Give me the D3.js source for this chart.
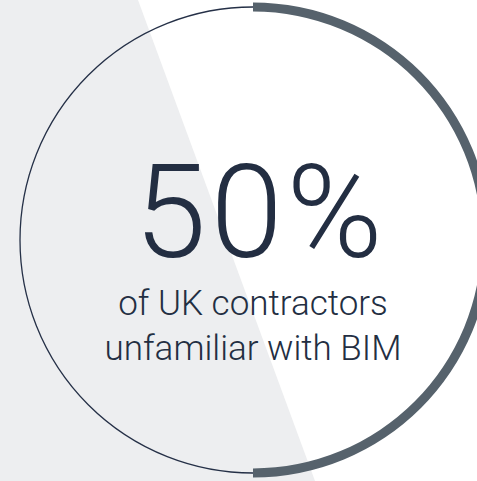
<!DOCTYPE html>
<html>
<head>
<meta charset="utf-8">
<script src="https://cdn.jsdelivr.net/npm/d3@7"></script>
<style>
  html, body { margin: 0; padding: 0; background: #fff; overflow: hidden; }
</style>
</head>
<body>
<div id="chart"></div>
<script>
// share of contractors and the labels
var shareValue = [50]
var shareTotal = [100]
var headline = ['50%']
var captionLines = ['of UK contractors', 'unfamiliar with BIM']

var svgWidth = 477
var svgHeight = 481

var svg = d3.select('#chart')
    .append('svg')
    .attr('width', svgWidth)
    .attr('height', svgHeight)

// light diagonal band behind the left part
svg.append('rect')
    .attr('width', svgWidth)
    .attr('height', svgHeight)
    .attr('fill', '#ffffff')

svg.append('path')
    .attr('d', 'M0,0 L138,0 L315,481 L0,481 Z')
    .attr('fill', '#edeef0')

var cx = 253
var cy = 240
var radius = 233

var g = svg.append('g')
    .attr('transform', `translate(${cx}, ${cy})`)

// thin full ring
g.append('circle')
    .attr('r', radius)
    .attr('fill', 'none')
    .attr('stroke', '#253047')
    .attr('stroke-width', 1.3)

// thick arc for the share
var angle = d3.scaleLinear()
    .domain([0, shareTotal[0]])
    .range([0, 2 * Math.PI])

var arc = d3.arc()
    .innerRadius(radius - 4.5)
    .outerRadius(radius + 4.5)
    .startAngle(0)
    .endAngle(d => angle(d))

g.selectAll('.share')
    .data(shareValue)
    .enter()
    .append('path')
    .attr('class', 'share')
    .attr('d', arc)
    .attr('fill', '#56626c')

// texts
g.append('text')
    .attr('x', 7.5)
    .attr('y', 17)
    .attr('text-anchor', 'middle')
    .attr('font-family', 'Roboto, sans-serif')
    .attr('font-weight', 300)
    .attr('font-size', 130)
    .attr('letter-spacing', 4)
    .attr('fill', '#232e42')
    .text(headline[0])

g.selectAll('.caption')
    .data(captionLines)
    .enter()
    .append('text')
    .attr('class', 'caption')
    .attr('x', 0)
    .attr('y', (d, i) => 75 + i * 45)
    .attr('text-anchor', 'middle')
    .attr('font-family', 'Roboto, sans-serif')
    .attr('font-weight', 300)
    .attr('font-size', 35)
    .attr('fill', '#232e42')
    .text(d => d)
</script>
</body>
</html>
